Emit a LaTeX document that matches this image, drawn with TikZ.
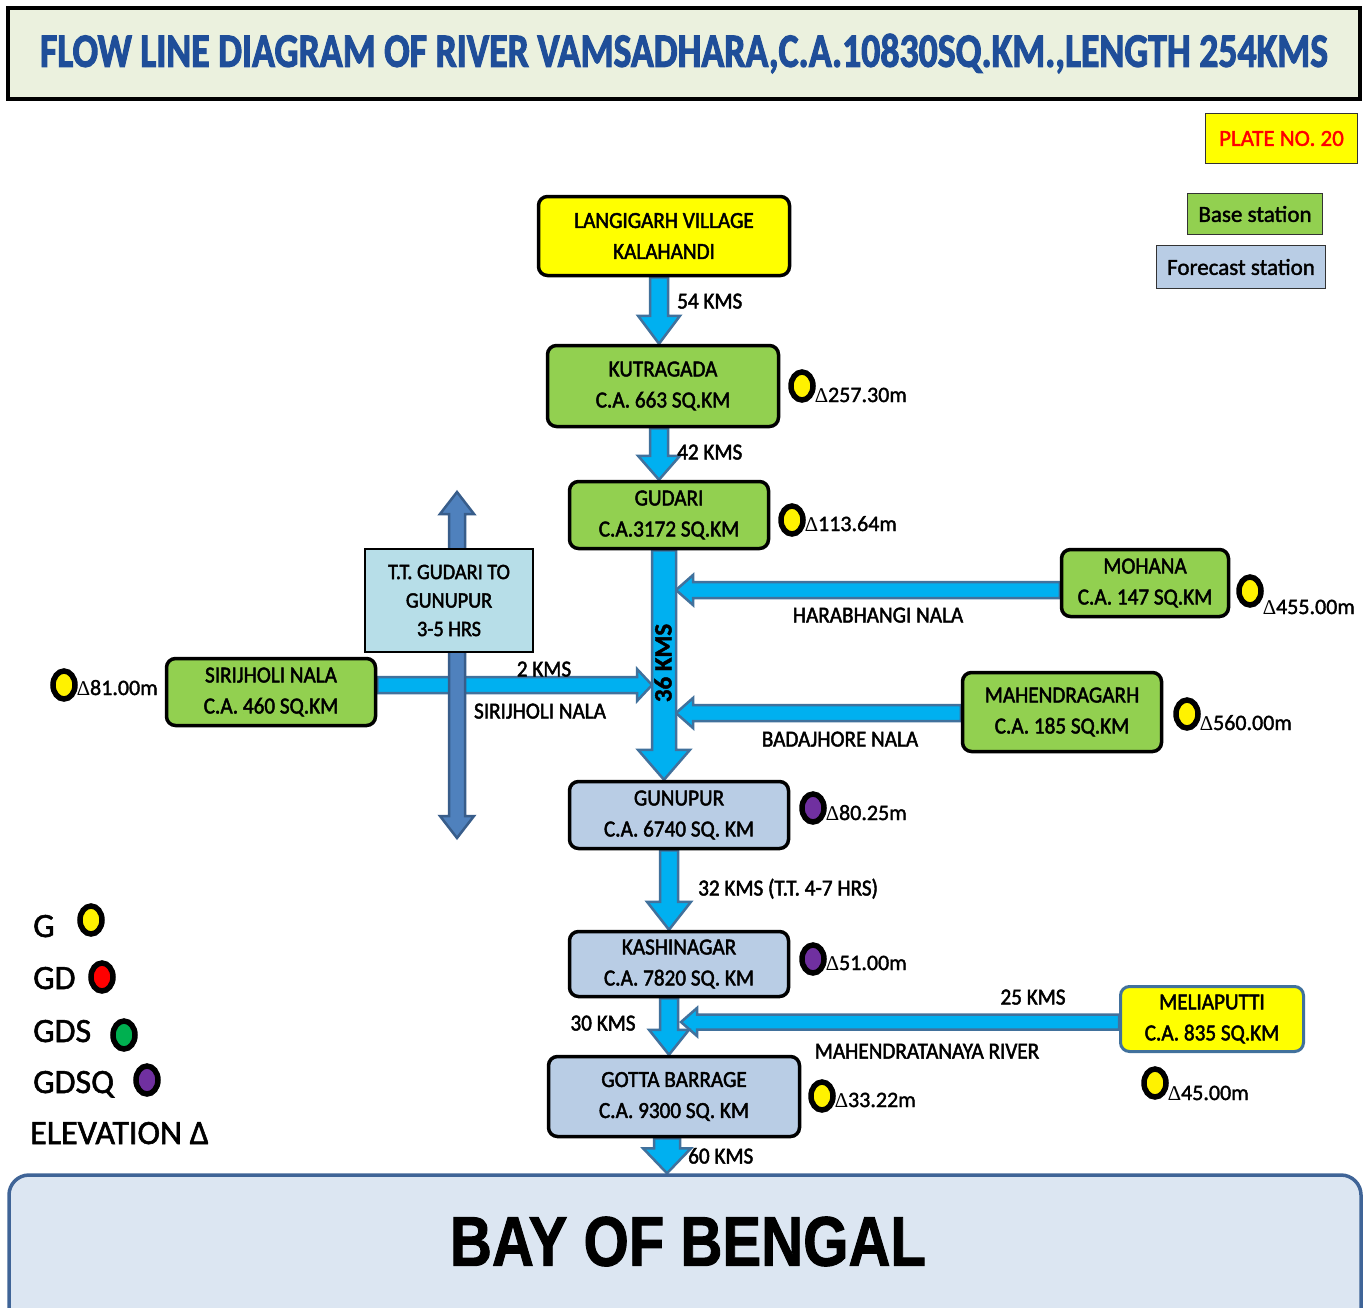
\documentclass[tikz,border=0pt]{standalone}
\usepackage{fontspec}
\usepackage{graphicx}
\setmainfont{Carlito}[FakeBold=1.6]
\newfontfamily\boxfont{Carlito}[FakeStretch=0.92,FakeBold=2]
\newfontfamily\titlefont{Carlito}[FakeBold=2.5]
\newfontfamily\trifont{Liberation Serif}
\newfontfamily\bayfont{Liberation Sans}[FakeBold=1.5]
\usetikzlibrary{shapes.geometric,calc}
\definecolor{basegreen}{HTML}{92D050}
\definecolor{fcblue}{HTML}{B9CDE5}
\definecolor{srcyellow}{HTML}{FFFF00}
\definecolor{ttbox}{HTML}{B7DEE8}
\definecolor{river}{HTML}{00B0F0}
\definecolor{riverline}{HTML}{41719C}
\definecolor{ttblue}{HTML}{4F81BD}
\definecolor{ttline}{HTML}{385D8A}
\definecolor{titlebg}{HTML}{EBF1DE}
\definecolor{titleblue}{HTML}{1F4E99}
\definecolor{bayfill}{HTML}{DCE6F2}
\definecolor{bayline}{HTML}{3F6497}
\definecolor{gpurple}{HTML}{7030A0}
\definecolor{gred}{HTML}{FF0000}
\definecolor{ggreen}{HTML}{00B050}
\pgfdeclarelayer{bg}
\pgfsetlayers{bg,main}
\tikzset{
 stn/.style={draw=black, line width=3.5pt, rounded corners=9pt, align=center, inner sep=0pt, font=\boxfont\fontsize{23}{31}\selectfont},
 basestn/.style={stn, fill=basegreen},
 fcst/.style={stn, fill=fcblue},
 srcbox/.style={stn, fill=srcyellow},
 blk/.style={fill=river, draw=riverline, line width=2.5pt, line join=miter},
 ttarrow/.style={fill=ttblue, draw=ttline, line width=2.5pt, line join=miter},
 gauge/.style={ellipse, draw=black, line width=5.5pt, minimum width=22pt, minimum height=28pt, inner sep=0pt, fill=#1},
 elev/.style={anchor=west, inner sep=0pt, text height=14pt, text depth=0pt, font=\fontsize{22}{26}\selectfont},
 lab/.style={inner sep=0pt, text height=15pt, text depth=0pt, font=\boxfont\fontsize{23}{28}\selectfont},
 leg/.style={anchor=west, inner sep=0pt, text height=22pt, text depth=0pt, font=\fontsize{34}{40}\selectfont},
 keybox/.style={draw=black!80, line width=1.5pt, inner sep=0pt, font=\fontsize{23}{28}\selectfont},
}
\newcommand\tri{{\trifont\fontsize{21}{22}\selectfont ∆}}
% vertical block arrow: [style] x, source node, target node, half shaft, half head, head length
\newcommand\blkv[7][blk]{%
 \coordinate (bs) at (#2,0 |- #3.south);
 \coordinate (bt) at (#2,0 |- #4.north);
 \path[#1] ($(bs)+(-#5,0)$) -- ($(bt)+(-#5,-#7)$) -- ($(bt)+(-#6,-#7)$) -- (bt) -- ($(bt)+(#6,-#7)$) -- ($(bt)+(#5,-#7)$) -- ($(bs)+(#5,0)$) -- cycle;}
% left-pointing block arrow: y, source node, tip x, half shaft, half head, head length
\newcommand\blkl[6]{%
 \coordinate (bs) at (#2.west |- 0,#1);
 \coordinate (bt) at (#3,#1);
 \path[blk] ($(bs)+(0,-#4)$) -- ($(bt)+(#6,-#4)$) -- ($(bt)+(#6,-#5)$) -- (bt) -- ($(bt)+(#6,#5)$) -- ($(bt)+(#6,#4)$) -- ($(bs)+(0,#4)$) -- cycle;}
% right-pointing block arrow
\newcommand\blkr[6]{%
 \coordinate (bs) at (#2.east |- 0,#1);
 \coordinate (bt) at (#3,#1);
 \path[blk] ($(bs)+(0,-#4)$) -- ($(bt)+(-#6,-#4)$) -- ($(bt)+(-#6,-#5)$) -- (bt) -- ($(bt)+(-#6,#5)$) -- ($(bt)+(-#6,#4)$) -- ($(bs)+(0,#4)$) -- cycle;}
\begin{document}
\begin{tikzpicture}[x=1pt,y=-1pt]
\clip (0,0) rectangle (1372,1307);
\begin{pgfonlayer}{bg}
\fill[white] (0,0) rectangle (1372,1307);
\end{pgfonlayer}

% title
\node[draw=black, line width=4pt, fill=titlebg, minimum width=1352pt, minimum height=91pt, inner sep=0pt, text=titleblue] (title) at (684,53.5)
 {\resizebox{1288pt}{33pt}{\titlefont\bfseries FLOW LINE DIAGRAM OF RIVER VAMSADHARA,C.A.10830SQ.KM.,LENGTH 254KMS}};

% key boxes
\node[keybox, fill=srcyellow, text=red, minimum width=152pt, minimum height=50pt] (plate) at (1281.5,138.5) {PLATE NO. 20};
\node[keybox, fill=basegreen, minimum width=135pt, minimum height=41pt] (kbase) at (1255,214) {Base station};
\node[keybox, fill=fcblue, minimum width=169pt, minimum height=43pt] (kfc) at (1241,267) {Forecast station};

% stations
\node[srcbox, minimum width=251pt, minimum height=79pt] (lang) at (664,236) {LANGIGARH VILLAGE\\KALAHANDI};
\node[basestn, minimum width=231pt, minimum height=81pt] (kut) at (663,386) {KUTRAGADA\\C.A. 663 SQ.KM};
\node[basestn, minimum width=199pt, minimum height=67pt] (gud) at (669,515) {GUDARI\\C.A.3172 SQ.KM};
\node[basestn, minimum width=167pt, minimum height=67pt] (moh) at (1145,583) {MOHANA\\C.A. 147 SQ.KM};
\node[basestn, minimum width=199pt, minimum height=79pt] (mah) at (1062,712) {MAHENDRAGARH\\C.A. 185 SQ.KM};
\node[basestn, minimum width=209pt, minimum height=67pt] (sir) at (271,692) {SIRIJHOLI NALA\\C.A. 460 SQ.KM};
\node[fcst, minimum width=219pt, minimum height=67pt] (gun) at (679,815) {GUNUPUR\\C.A. 6740 SQ. KM};
\node[fcst, minimum width=219pt, minimum height=65pt] (kas) at (679,964) {KASHINAGAR\\C.A. 7820 SQ. KM};
\node[fcst, minimum width=251pt, minimum height=80pt] (got) at (674,1096.5) {GOTTA BARRAGE\\C.A. 9300 SQ. KM};
\node[srcbox, draw=riverline, line width=3pt, minimum width=183pt, minimum height=65pt] (mel) at (1212,1019) {MELIAPUTTI\\C.A. 835 SQ.KM};
\node[draw=black, line width=2pt, fill=ttbox, minimum width=168pt, minimum height=103pt, inner sep=0pt, align=center, font=\boxfont\fontsize{22}{28.5}\selectfont] (tt) at (449,600.5) {T.T. GUDARI TO\\GUNUPUR\\3-5 HRS};

% sea
\node[draw=bayline, line width=3.5pt, fill=bayfill, rounded corners=20pt, minimum width=1352pt, minimum height=165pt, inner sep=0pt] (bay) at (685,1257.5) {};
\node[inner sep=0pt] (baytxt) at (688,1241.5) {\resizebox{476pt}{49pt}{\bayfont\bfseries BAY OF BENGAL}};

% arrows (behind boxes)
\begin{pgfonlayer}{bg}
\blkl{590}{moh}{676}{8}{15}{17}
\blkl{713}{mah}{676}{8}{15}{17}
\blkl{1022}{mel}{681}{7.5}{14}{16}
\blkr{685}{sir}{652}{8}{16}{15}
\path[ttarrow] (449,514) -- (440,514) -- (457,492) -- (474,514) -- (465,514) -- (465,816) -- (474,816) -- (457,838) -- (440,816) -- (449,816) -- cycle;
\blkv{659}{lang}{kut}{9}{21}{28}
\blkv{659}{kut}{gud}{9}{21}{24}
\blkv{664}{gud}{gun}{12}{26}{30}
\blkv{669}{gun}{kas}{9}{22}{28}
\blkv{669}{kas}{got}{9}{20}{25}
\blkv{667}{got}{bay}{13}{24}{25}
\end{pgfonlayer}

% arrow labels
\node[lab, anchor=west] (l54) at (677,301) {54 KMS};
\node[lab, anchor=west] (l42) at (677,452) {42 KMS};
\node[lab] (l2) at (544,669) {2 KMS};
\node[lab] (lsn) at (540,711) {SIRIJHOLI NALA};
\node[lab] (lhn) at (878,615) {HARABHANGI NALA};
\node[lab] (lbn) at (840,739) {BADAJHORE NALA};
\node[inner sep=0pt, text height=17pt, text depth=0pt, rotate=90, font=\bfseries\fontsize{25}{28}\selectfont] (l36) at (663,663) {36 KMS};
\node[lab, anchor=west] (l32) at (698,888) {32 KMS (T.T. 4-7 HRS)};
\node[lab] (l30) at (603,1023) {30 KMS};
\node[lab] (l25) at (1033,997) {25 KMS};
\node[lab] (lmr) at (927,1051) {MAHENDRATANAYA RIVER};
\node[lab, anchor=west] (l60) at (688,1156) {60 KMS};

% gauges and elevations
\node[gauge=yellow] (gkut) at (802,386) {};
\node[elev] (ekut) at (815,395) {\tri257.30m};
\node[gauge=yellow] (ggud) at (792,520) {};
\node[elev] (egud) at (805,524) {\tri113.64m};
\node[gauge=yellow] (gmoh) at (1250,591) {};
\node[elev] (emoh) at (1263,607) {\tri455.00m};
\node[gauge=yellow] (gmah) at (1187,714) {};
\node[elev] (emah) at (1200,723) {\tri560.00m};
\node[gauge=yellow] (gsir) at (64,685) {};
\node[elev] (esir) at (77,688) {\tri81.00m};
\node[gauge=gpurple] (ggun) at (813,808) {};
\node[elev] (egun) at (826,813) {\tri80.25m};
\node[gauge=gpurple] (gkas) at (813,959) {};
\node[elev] (ekas) at (826,963) {\tri51.00m};
\node[gauge=yellow] (ggot) at (822,1096) {};
\node[elev] (egot) at (835,1100) {\tri33.22m};
\node[gauge=yellow] (gmel) at (1155,1083) {};
\node[elev] (emel) at (1168,1093) {\tri45.00m};

% legend
\node[leg] (kg) at (33,926) {G};
\node[gauge=yellow] (kgc) at (91,920) {};
\node[leg] (kgd) at (33,978) {GD};
\node[gauge=gred] (kgdc) at (102,977) {};
\node[leg] (kgds) at (33,1031) {GDS};
\node[gauge=ggreen] (kgdsc) at (124,1035) {};
\node[leg] (kgdsq) at (33,1082) {GDSQ};
\node[gauge=gpurple] (kgdsqc) at (147,1080) {};
\node[leg] (kel) at (30,1133) {ELEVATION Δ};
\end{tikzpicture}
\end{document}
